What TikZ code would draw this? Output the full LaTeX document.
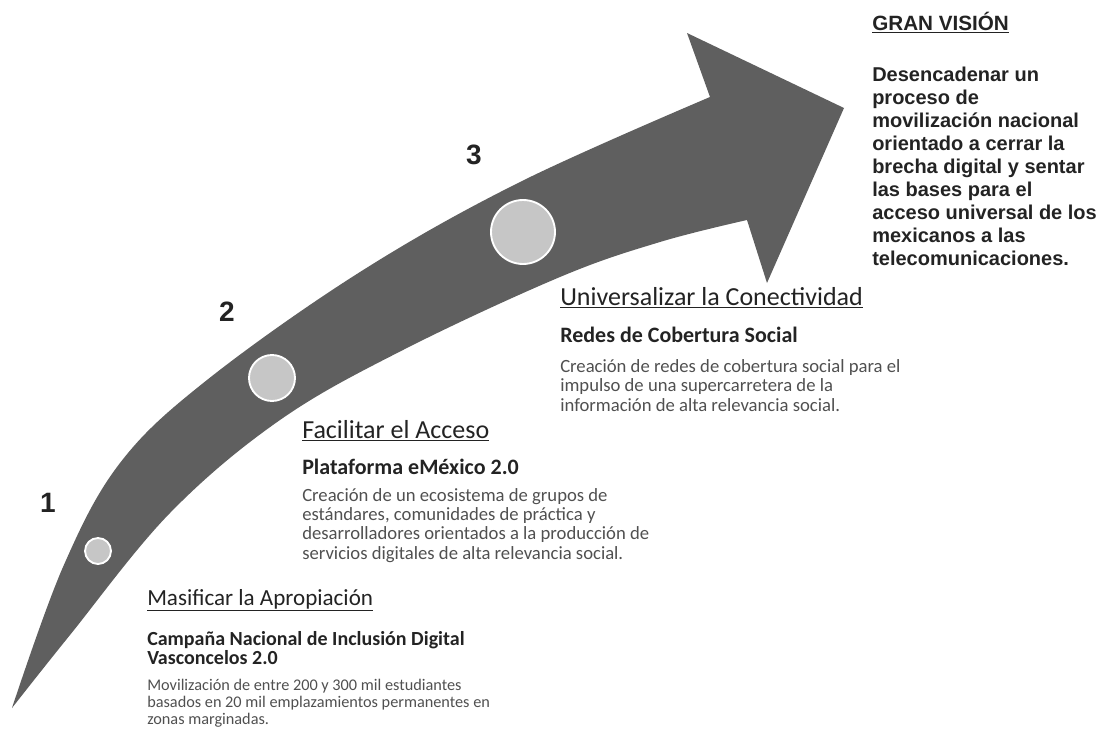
\documentclass[tikz,border=0pt]{standalone}
\usepackage{fontspec}
\usepackage{xcolor}
\setmainfont{Carlito}
\newfontfamily\visionfont{Liberation Sans}

\definecolor{arrowgray}{RGB}{95,95,95}
\definecolor{dotgray}{RGB}{198,198,198}
\definecolor{headtext}{RGB}{35,35,35}
\definecolor{softtext}{RGB}{80,80,80}

\begin{document}
\begin{tikzpicture}[x=0.75pt, y=-0.75pt,
    milestone/.style={circle, draw=white, line width=1.4pt, fill=dotgray, inner sep=0pt},
    stepnum/.style={font=\visionfont\bfseries\fontsize{21}{21}\selectfont, text=headtext},
    heading/.style={anchor=base west, inner sep=0pt, font=\fontsize{19.5}{22}\selectfont, text=headtext},
    subheading/.style={anchor=base west, inner sep=0pt, align=left, font=\bfseries\fontsize{16.5}{14}\selectfont, text=headtext},
    bodytext/.style={anchor=base west, inner sep=0pt, align=left, font=\fontsize{14}{14.5}\selectfont, text=softtext},
    vision/.style={anchor=base west, inner sep=0pt, align=left, font=\visionfont\bfseries\fontsize{15}{17.25}\selectfont, text=headtext}]
    % Fix page size to the reference (pixel units)
    \useasboundingbox (0,0) rectangle (1101,732);

    % Curved arrow body and head
    \fill[arrowgray]
      plot[smooth, tension=0.6] coordinates {(12,708) (63,567) (120,463) (207,380) (360,272) (520,182) (710,97)}
      -- (687,33) -- (844,108) -- (767,283) -- (747,220)
      -- plot[smooth, tension=0.6] coordinates {(747,220) (660,242) (560,277) (403,350) (280,420) (170,513) (70,635) (12,708)}
      -- cycle;

    % Milestones on the arrow
    \node[milestone, minimum size=19.5pt] (m1) at (98,551) {};
    \node[milestone, minimum size=34.5pt] (m2) at (272,378) {};
    \node[milestone, minimum size=48pt] (m3) at (523,232) {};

    % Step numbers
    \node[stepnum] (n1) at (48,503) {1};
    \node[stepnum] (n2) at (227,312) {2};
    \node[stepnum] (n3) at (474,155) {3};

    % Step 1, set a little smaller (multi-line nodes sit on their last baseline)
    \node[heading, font=\fontsize{17.3}{20}\selectfont] (h1) at (147,605) {\underline{Masificar la Apropiación}};
    \node[subheading, font=\bfseries\fontsize{15}{14.25}\selectfont] (s1) at (147,664) {Campaña Nacional de Inclusión Digital\\Vasconcelos 2.0};
    \node[bodytext, font=\fontsize{12.2}{12.75}\selectfont] (b1) at (147,724) {Movilización de entre 200 y 300 mil estudiantes\\basados en 20 mil emplazamientos permanentes en\\zonas marginadas.};

    % Step 2
    \node[heading] (h2) at (302,438) {\underline{Facilitar el Acceso}};
    \node[subheading] (s2) at (302,474) {Plataforma eMéxico 2.0};
    \node[bodytext] (b2) at (302,559) {Creación de un ecosistema de grupos de\\estándares, comunidades de práctica y\\desarrolladores orientados a la producción de\\servicios digitales de alta relevancia social.};

    % Step 3
    \node[heading] (h3) at (560,305) {\underline{Universalizar la Conectividad}};
    \node[subheading] (s3) at (560,342) {Redes de Cobertura Social};
    \node[bodytext] (b3) at (560,411) {Creación de redes de cobertura social para el\\impulso de una supercarretera de la\\información de alta relevancia social.};

    % Vision
    \node[vision, font=\visionfont\bfseries\fontsize{15.5}{16}\selectfont] (gv) at (872,30) {\underline{GRAN VISIÓN}};
    \node[vision] (gvtext) at (872,265) {Desencadenar un\\proceso de\\movilización nacional\\orientado a cerrar la\\brecha digital y sentar\\las bases para el\\acceso universal de los\\mexicanos a las\\telecomunicaciones.};
\end{tikzpicture}
\end{document}
